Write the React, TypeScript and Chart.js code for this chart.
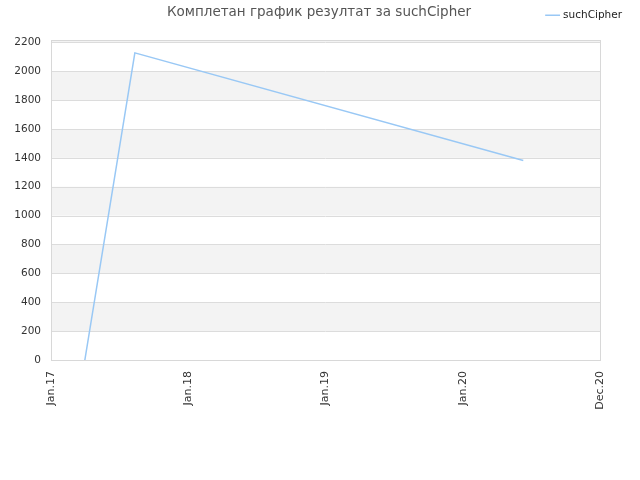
import React, { useEffect, useRef } from "react";
import { Chart, registerables } from "chart.js";

Chart.register(...registerables);

const seriesName = "suchCipher";
const titleText = "Комплетан график резултат за suchCipher";
const pointDates = ["2017-04-01", "2017-08-12", "2020-06-10"];
const pointValues = [0, 2127, 1381];
const tickDates = ["2017-01-01", "2018-01-01", "2019-01-01", "2020-01-01", "2020-12-31"];
const tickLabels = ["Jan.17", "Jan.18", "Jan.19", "Jan.20", "Dec.20"];
const yMax = 2216;
const yStep = 200;

const toTs = (s: string) => Date.parse(s + "T00:00:00Z");

const bgPlugin = {
  id: "bgBands",
  afterLayout(chart: any) {
    const lg = chart.legend;
    if (lg) {
      const h = lg.bottom - lg.top;
      lg.top = 2;
      lg.bottom = 2 + h;
    }
  },
  beforeDatasetsDraw(chart: any) {
    const { ctx, chartArea, scales } = chart;
    const y = scales.y;
    ctx.save();
    ctx.fillStyle = "#f3f3f3";
    for (let v = 200; v < yMax; v += 400) {
      const top = y.getPixelForValue(Math.min(v + yStep, yMax));
      const bot = y.getPixelForValue(v);
      ctx.fillRect(chartArea.left, top, chartArea.right - chartArea.left, bot - top);
    }
    ctx.strokeStyle = "#dcdcdc";
    ctx.lineWidth = 1;
    for (let v = 0; v <= yMax; v += yStep) {
      const py = Math.round(y.getPixelForValue(v)) + 0.5;
      ctx.beginPath();
      ctx.moveTo(chartArea.left, py);
      ctx.lineTo(chartArea.right, py);
      ctx.stroke();
    }
    ctx.strokeStyle = "#d8d8d8";
    ctx.strokeRect(
      Math.round(chartArea.left) + 0.5,
      Math.round(chartArea.top) + 0.5,
      Math.round(chartArea.right - chartArea.left),
      Math.round(chartArea.bottom - chartArea.top)
    );
    ctx.restore();
  },
  afterDraw(chart: any) {
    const { ctx } = chart;
    ctx.save();
    ctx.font = "13.5px 'DejaVu Sans'";
    ctx.fillStyle = "#555555";
    ctx.textAlign = "center";
    ctx.textBaseline = "middle";
    ctx.fillText(titleText, 319, 12);
    ctx.restore();
  },
};

export default function App() {
  const ref = useRef<HTMLCanvasElement>(null);
  useEffect(() => {
    if (!ref.current) return;
    const chart = new Chart(ref.current, {
      type: "line",
      data: {
        datasets: [
          {
            label: seriesName,
            data: pointDates.map((d, i) => ({ x: toTs(d), y: pointValues[i] })),
            borderColor: "#99c8f5",
            backgroundColor: "#99c8f5",
            borderWidth: 1.5,
            pointRadius: 0,
            tension: 0,
            fill: false,
          },
        ],
      },
      options: {
        animation: false,
        responsive: false,
        devicePixelRatio: 1,
        layout: { padding: { left: 0, right: 10, top: 0, bottom: 0 } },
        plugins: {
          title: { display: false },
          tooltip: { enabled: false },
          legend: {
            display: true,
            position: "top",
            align: "end",
            labels: {
              usePointStyle: true,
              pointStyle: "line",
              boxWidth: 12,
              font: { family: "'DejaVu Sans'", size: 10.5 },
              color: "#222222",
              padding: 8,
            },
          },
        },
        scales: {
          x: {
            type: "linear",
            min: toTs(tickDates[0]),
            max: toTs(tickDates[tickDates.length - 1]),
            afterBuildTicks: (scale: any) => {
              scale.ticks = tickDates.map((d) => ({ value: toTs(d) }));
            },
            afterFit: (scale: any) => {
              scale.height = 120;
            },
            grid: { display: false, drawTicks: false },
            border: { display: false },
            ticks: {
              autoSkip: false,
              minRotation: 90,
              maxRotation: 90,
              padding: 11,
              color: "#333333",
              font: { family: "'DejaVu Sans'", size: 11 },
              callback: (v: any) => {
                const i = tickDates.findIndex((d) => toTs(d) === v);
                return i >= 0 ? tickLabels[i] : "";
              },
            },
          },
          y: {
            min: 0,
            max: yMax,
            afterBuildTicks: (scale: any) => {
              const t = [];
              for (let v = 0; v <= yMax; v += yStep) t.push({ value: v });
              scale.ticks = t;
            },
            afterFit: (scale: any) => {
              scale.width = 51;
              scale.paddingTop = 40;
            },
            grid: { display: false, drawTicks: false },
            border: { display: false },
            ticks: {
              padding: 10,
              color: "#333333",
              font: { family: "'DejaVu Sans'", size: 10.5 },
              callback: (v: any) => String(v),
            },
          },
          yRight: {
            position: "right",
            display: true,
            afterFit: (scale: any) => {
              scale.width = 30;
            },
            grid: { display: false, drawTicks: false },
            border: { display: false },
            ticks: { display: false },
          },
        },
      },
      plugins: [bgPlugin],
    });
    return () => chart.destroy();
  }, []);
  return (
    <div style={{ position: "fixed", left: 0, top: 0, width: 640, height: 480, background: "#fff" }}>
      <canvas ref={ref} width={640} height={480} />
    </div>
  );
}
